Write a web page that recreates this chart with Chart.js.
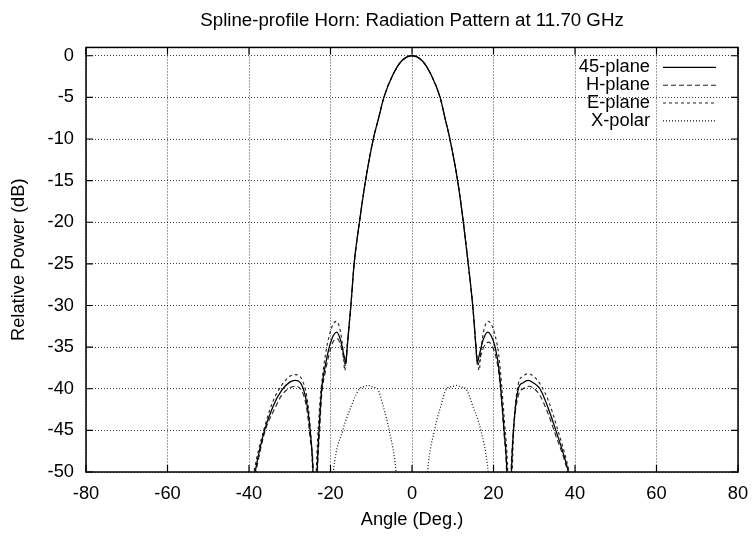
<!DOCTYPE html>
<html>
<head>
<meta charset="utf-8">
<script src="https://cdn.jsdelivr.net/npm/chart.js@4"></script>
<style>
  html, body { margin: 0; padding: 0; background: #fff; }
  #wrap { width: 752px; height: 536px; }
</style>
</head>
<body>
<div id="wrap"><canvas id="c" width="752" height="536"></canvas></div>
<script>
// ---- data ----
const titleText = 'Spline-profile Horn: Radiation Pattern at 11.70 GHz';
const xTitle = 'Angle (Deg.)';
const yTitle = 'Relative Power (dB)';
const xTicks = [-80, -60, -40, -20, 0, 20, 40, 60, 80];
const yTicks = [-50, -45, -40, -35, -30, -25, -20, -15, -10, -5, 0];
const seriesNames = ['45-plane', 'H-plane', 'E-plane', 'X-polar'];

const ang45 = [-41, -38.5, -36.2, -34, -32, -30, -28.7, -27, -25.8, -25, -24.3, -23.8, -23.3, -22.7, -22.2, -21.2, -20.3, -19.3, -18.5, -17.5, -16.6, -16.2, -15.9, -15.0, -14.2, -12.9, -11.4, -9.5, -8.2, -6.9, -4.6, -2.5, 0,
  2.5, 4.6, 6.9, 8.1, 9.3, 11.2, 12.6, 13.8, 14.9, 15.7, 16.0, 16.4, 17.4, 18.6, 19.4, 20.4, 21.3, 22.6, 23.3, 23.8, 24.4, 24.9, 26.1, 27.2, 28.5, 29.8, 31.4, 33.4, 35.3, 38.4, 40.5];
const db45 = [-58, -50, -45, -42, -40.2, -39.2, -39.0, -39.6, -41.8, -45, -50, -60, -50, -44, -40.2, -37, -35, -33.6, -33.2, -34.2, -36.2, -36.8, -35, -30, -25, -20, -15, -10, -7.5, -5, -2.2, -0.6, 0,
  -0.6, -2.2, -5, -7.5, -10, -15, -20, -25, -30, -35, -36.8, -36.2, -34.2, -33.2, -33.6, -35, -37.5, -45, -50, -60, -50, -45, -40, -39.3, -39.0, -39.3, -40, -42.3, -45, -50, -55];

const angH = [-41, -38.3, -36.0, -33.8, -32, -30, -28.7, -27, -25.8, -25, -24.2, -23.7, -23.2, -22.6, -22.2, -21.2, -20.3, -19.3, -18.3, -17.5, -16.7, -16.3, -15.9, -15.0, -14.2, -12.9, -11.4, -9.5, -8.2, -6.9, -4.6, -2.5, 0,
  2.5, 4.6, 6.9, 8.1, 9.3, 11.2, 12.6, 13.8, 14.9, 15.7, 16.1, 16.6, 17.6, 18.8, 19.6, 20.5, 21.4, 22.6, 23.2, 23.7, 24.3, 24.8, 26.1, 27.3, 28.7, 30.0, 31.4, 33.4, 35.2, 38.2, 40.5];
const dbH = [-58, -50, -45, -42.5, -40.8, -39.9, -39.7, -40.3, -42.5, -46, -50, -60, -50, -44.5, -41, -37.8, -35.8, -34.3, -34.0, -34.8, -36.5, -37.3, -35, -30, -25, -20, -15, -10, -7.5, -5, -2.2, -0.6, 0,
  -0.6, -2.2, -5, -7.5, -10, -15, -20, -25, -30, -35, -37.3, -36.5, -35.0, -34.4, -34.8, -36, -38.5, -45.5, -50, -60, -50, -45.5, -40.8, -40.0, -39.7, -40.0, -40.8, -43, -45.5, -50, -56];

const angE = [-41, -38.8, -36.4, -34.2, -32, -30, -28.7, -27, -25.8, -25, -24.4, -24.0, -23.5, -22.8, -22.2, -21.2, -20.3, -19.3, -18.5, -17.5, -16.9, -16.5, -16.0, -15.0, -14.2, -12.9, -11.4, -9.5, -8.2, -6.9, -4.6, -2.5, 0,
  2.5, 4.6, 6.9, 8.1, 9.3, 11.2, 12.6, 13.8, 14.9, 15.8, 16.5, 16.9, 17.5, 18.6, 19.4, 20.4, 21.3, 22.7, 23.5, 24.0, 24.6, 25.0, 26.1, 27.2, 28.5, 29.8, 31.4, 33.6, 35.5, 38.6, 40.5];
const dbE = [-57, -50, -45, -41.6, -39.6, -38.5, -38.3, -38.9, -41, -44.5, -50, -60, -50, -43, -39.5, -35.8, -33.6, -32.2, -31.9, -33.3, -35.5, -37.8, -35.3, -30, -25, -20, -15, -10, -7.5, -5, -2.2, -0.6, 0,
  -0.6, -2.2, -5, -7.5, -10, -15, -20, -25, -30, -35.3, -37.8, -35.5, -33.3, -31.9, -32.2, -33.6, -36, -44, -50, -60, -50, -44.5, -39.4, -38.5, -38.2, -38.5, -39.4, -41.6, -44.5, -50, -55];

const angX = [-21, -19.3, -17.0, -15.0, -12.9, -11.8, -10.7, -9.6, -8.5, -7.0, -5.6, -3.9, -2.5,
  2.5, 3.8, 5.5, 7.0, 8.5, 9.8, 11.0, 12.1, 13.2, 15.0, 16.9, 18.7, 20.5];
const dbX = [-62, -50, -45, -42.2, -40, -39.75, -39.6, -39.8, -40, -42.2, -45, -50, -60,
  -60, -50, -45, -42.2, -40, -39.75, -39.6, -39.8, -40, -42.2, -45, -50, -62];

function pts(a, d) { return a.map((v, i) => ({ x: v, y: d[i] })); }

const FONT = 'Liberation Sans, Arial, Helvetica, sans-serif';
const FSIZE = 18.3;
const TSIZE = 18.7;

const frame = {
  id: 'frame',
  afterDraw(chart) {
    const ctx = chart.ctx, a = chart.chartArea;
    const xs = chart.scales.x, ys = chart.scales.y;
    ctx.save();
    ctx.strokeStyle = '#000';
    ctx.lineWidth = 1.5;
    ctx.strokeRect(a.left, a.top, a.right - a.left, a.bottom - a.top);
    const tl = 7;
    ctx.lineWidth = 1.2;
    ctx.beginPath();
    xTicks.forEach(v => {
      const px = xs.getPixelForValue(v);
      ctx.moveTo(px, a.bottom); ctx.lineTo(px, a.bottom - tl);
      ctx.moveTo(px, a.top); ctx.lineTo(px, a.top + tl);
    });
    yTicks.forEach(v => {
      const py = ys.getPixelForValue(v);
      ctx.moveTo(a.left, py); ctx.lineTo(a.left + tl, py);
      ctx.moveTo(a.right, py); ctx.lineTo(a.right - tl, py);
    });
    ctx.stroke();
    // legend, gnuplot style
    ctx.font = FSIZE + 'px ' + FONT;
    ctx.fillStyle = '#000';
    ctx.textAlign = 'right';
    ctx.textBaseline = 'middle';
    chart.data.datasets.forEach((ds, i) => {
      const y = a.top + 20 + i * 17.8;
      ctx.fillText(ds.label, a.right - 88, y);
      ctx.save();
      ctx.strokeStyle = ds.borderColor;
      ctx.lineWidth = ds.borderWidth;
      ctx.setLineDash(ds.borderDash || []);
      ctx.beginPath();
      ctx.moveTo(a.right - 75, y);
      ctx.lineTo(a.right - 22, y);
      ctx.stroke();
      ctx.restore();
    });
    ctx.restore();
  }
};

new Chart(document.getElementById('c'), {
  type: 'line',
  data: {
    datasets: [
      { label: seriesNames[0], data: pts(ang45, db45), borderColor: '#000', borderWidth: 1.3, borderDash: [] },
      { label: seriesNames[1], data: pts(angH, dbH), borderColor: '#222', borderWidth: 1.1, borderDash: [5, 3] },
      { label: seriesNames[2], data: pts(angE, dbE), borderColor: '#222', borderWidth: 1.1, borderDash: [3, 3] },
      { label: seriesNames[3], data: pts(angX, dbX), borderColor: '#111', borderWidth: 1.2, borderDash: [1, 2] }
    ]
  },
  options: {
    responsive: false,
    animation: false,
    parsing: true,
    elements: { point: { radius: 0 }, line: { cubicInterpolationMode: 'monotone', fill: false } },
    layout: { padding: { left: 0, right: 14, top: 0, bottom: 0 } },
    plugins: {
      legend: { display: false },
      tooltip: { enabled: false },
      title: {
        display: true, text: titleText, fullSize: false, color: '#000',
        font: { family: FONT, size: TSIZE, weight: 'normal', lineHeight: 1.2 },
        padding: { top: 10, bottom: 15 }
      }
    },
    scales: {
      x: {
        type: 'linear', min: -80, max: 80,
        afterBuildTicks: s => { s.ticks = xTicks.map(v => ({ value: v })); },
        afterFit: s => { s.height = 64; s.paddingLeft = 0; s.paddingRight = 0; },
        ticks: { color: '#000', font: { family: FONT, size: FSIZE }, padding: 11, maxRotation: 0 },
        grid: { color: 'rgba(0,0,0,0.75)', lineWidth: 1, tickLength: 0, drawTicks: false },
        border: { display: false, dash: [1, 2] },
        title: { display: true, text: xTitle, color: '#000', font: { family: FONT, size: FSIZE }, padding: { top: 4, bottom: 5 } }
      },
      y: {
        type: 'linear', min: -50, max: 1,
        afterBuildTicks: s => { s.ticks = yTicks.map(v => ({ value: v })); },
        afterFit: s => { s.width = 86; s.paddingTop = 0; s.paddingBottom = 0; },
        ticks: { color: '#000', font: { family: FONT, size: FSIZE }, padding: 12 },
        grid: { color: 'rgba(0,0,0,0.75)', lineWidth: 1, tickLength: 0, drawTicks: false },
        border: { display: false, dash: [1, 2] },
        title: { display: true, text: yTitle, color: '#000', font: { family: FONT, size: FSIZE }, padding: { top: 8, bottom: 0 } }
      }
    }
  },
  plugins: [frame]
});
</script>
</body>
</html>
